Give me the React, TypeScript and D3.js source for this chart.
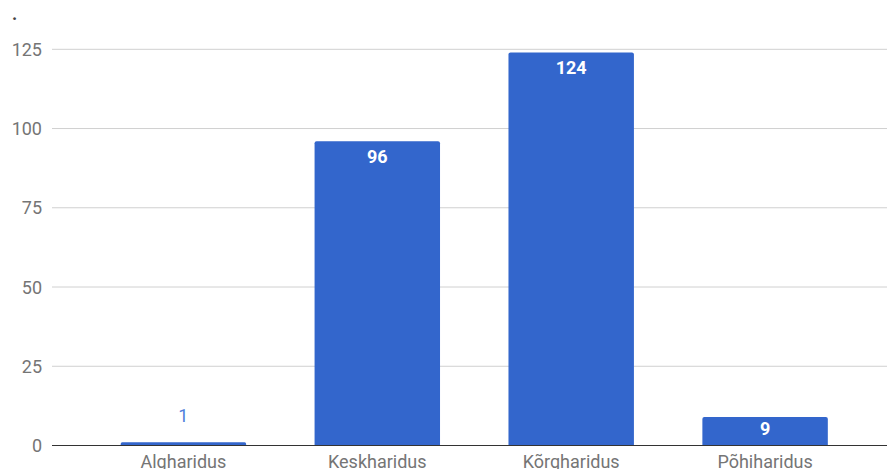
import React from "react";
import * as d3 from "d3";

const categories = ["Algharidus", "Keskharidus", "Kõrgharidus", "Põhiharidus"];
const values = [1, 96, 124, 9];
const yTicks = [0, 25, 50, 75, 100, 125];

const W = 887;
const H = 469;

export default function App() {
  const y = d3.scaleLinear().domain([0, 125]).range([445.5, 49.3]);
  const x = d3
    .scaleBand<string>()
    .domain(categories)
    .range([86.45, 862.05])
    .paddingInner(0.353)
    .paddingOuter(0.1765);
  const font = "Roboto, Arial, sans-serif";
  const r = 2;
  return (
    <svg
      width={W}
      height={H}
      style={{ position: "absolute", left: 0, top: 0, background: "#fff" }}
      fontFamily={font}
    >
      <text x={12} y={20} fontSize={18} fill="#444" fontWeight="bold">.</text>
      {yTicks.map((t) => (
        <g key={t}>
          {t !== 0 && (
            <line x1={52} x2={W} y1={y(t)} y2={y(t)} stroke="#d0d0d0" strokeWidth={1} />
          )}
          <text x={42} y={y(t) + 6.5} fontSize={18} fill="#757575" textAnchor="end">
            {t}
          </text>
        </g>
      ))}
      {categories.map((c, i) => {
        const v = values[i];
        const x0 = x(c)!;
        const bw = x.bandwidth();
        const top = y(v);
        const bottom = y(0);
        const h = bottom - top;
        const rr = Math.min(r, h / 2);
        const path = `M${x0},${bottom} L${x0},${top + rr} Q${x0},${top} ${x0 + rr},${top} L${x0 + bw - rr},${top} Q${x0 + bw},${top} ${x0 + bw},${top + rr} L${x0 + bw},${bottom} Z`;
        const inside = h > 20;
        const labelY = inside ? (h < 40 ? top + 18 : top + 22) : top - 20.6;
        return (
          <g key={c}>
            <path d={path} fill="#3366cc" />
            <text
              x={x0 + bw / 2}
              y={labelY}
              fontSize={18}
              textAnchor="middle"
              fontWeight={inside ? "bold" : "normal"}
              fill={inside ? "#ffffff" : "#4f7fdc"}
            >
              {v}
            </text>
            <text x={x0 + bw / 2} y={468} fontSize={18} textAnchor="middle" fill="#757575">
              {c}
            </text>
          </g>
        );
      })}
      <line x1={52} x2={W} y1={y(0)} y2={y(0)} stroke="#333" strokeWidth={1} />
    </svg>
  );
}
